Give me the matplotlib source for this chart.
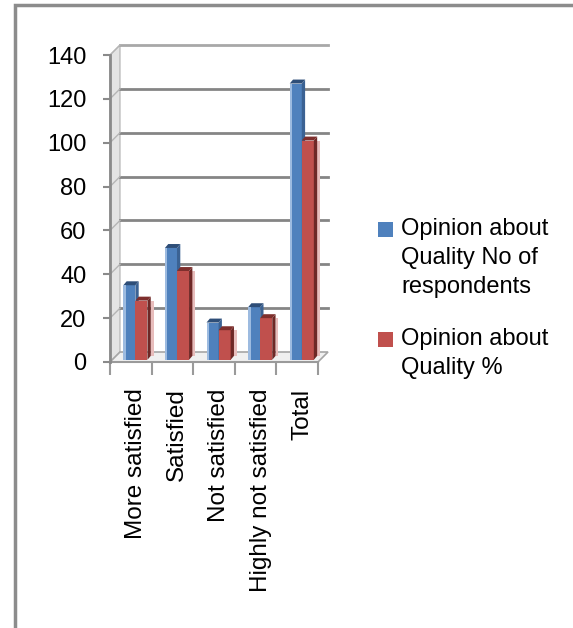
import numpy as np
import matplotlib.pyplot as plt
from matplotlib.patches import Polygon, Rectangle

plt.rcParams['font.family'] = ['Liberation Sans', 'DejaVu Sans']

categories = ['More satisfied', 'Satisfied', 'Not satisfied', 'Highly not satisfied', 'Total']
respondents = [34, 51, 17, 24, 126]
percent = [27, 40.5, 13.5, 19, 100]
series_names = ['Opinion about\nQuality No of\nrespondents', 'Opinion about\nQuality %']
y_ticks = [0, 20, 40, 60, 80, 100, 120, 140]

W, H = 573, 628
fig = plt.figure(figsize=(W / 100, H / 100), dpi=100)

# outer chart frame (runs off right/bottom edge)
fig.patches.append(Rectangle((15 / W, -0.1), 1.2, 1 - 5 / H + 0.1, transform=fig.transFigure,
                             fill=False, edgecolor='#8c8c8c', lw=2.5))

ax = fig.add_axes([110 / W, (H - 362) / H, (318 - 110) / W, (362 - 55) / H])
x0, x1 = -0.5, 4.5
ax.set_xlim(x0, x1)
ax.set_ylim(0, 140)
for s in ['top', 'right', 'bottom']:
    ax.spines[s].set_visible(False)
ax.spines['left'].set_color('#8a8a8a')
ax.spines['left'].set_linewidth(2)

# depth of the "3d" walls, in data units (about 10px)
dxw = 10 * (x1 - x0) / 208
dyw = 10 * 140 / 307

# left side wall
ax.add_patch(Polygon([(x0, 0), (x0 + dxw, dyw), (x0 + dxw, 140 + dyw), (x0, 140)],
                     closed=True, facecolor='#e4e4e4', edgecolor='#b0b0b0', lw=0.8,
                     clip_on=False, zorder=0))
# floor
ax.add_patch(Polygon([(x0, 0), (x1, 0), (x1 + dxw, dyw), (x0 + dxw, dyw)],
                     closed=True, facecolor='#f0f0f0', edgecolor='#a6a6a6', lw=1.2,
                     clip_on=False, zorder=0.5))
# back wall gridlines
for t in y_ticks[1:]:
    c = '#a8a8a8' if t == 140 else '#858585'
    ax.plot([x0 + dxw, x1 + dxw], [t + dyw, t + dyw], color=c, lw=2, clip_on=False, zorder=0.6)
    ax.plot([x0, x0 + dxw], [t, t + dyw], color='#b5b5b5', lw=1, clip_on=False, zorder=0.6)
ax.plot([x0, x1], [0, 0], color='#9a9a9a', lw=1.5, clip_on=False, zorder=0.7)

# bars with fake depth
xs = np.arange(len(categories))
bw = 0.29
dxb, dyb = 0.08, 1.8
base = 1.0
styles = [
    (respondents, -0.18, '#4F81BD', '#2E4E78', '#3B6293', '#9DBBE0'),
    (percent, 0.11, '#C0504D', '#7E2F2D', '#6E2826', '#E8BDBC'),
]
for k, (vals, off, front, top, side, glow) in enumerate(styles):
    z = 2 + k
    left = xs + off
    ax.bar(left, vals, width=bw, bottom=base, align='edge', color=front, zorder=z, clip_on=False)
    for l, v in zip(left, vals):
        h = base + v
        ax.add_patch(Polygon([(l + bw, base), (l + bw + dxb, base + dyb), (l + bw + dxb, h + dyb), (l + bw, h)],
                             closed=True, facecolor=side, lw=0, zorder=z, clip_on=False))
        ax.add_patch(Polygon([(l, h), (l + bw, h), (l + bw + dxb, h + dyb), (l + dxb, h + dyb)],
                             closed=True, facecolor=top, lw=0, zorder=z, clip_on=False))
        if k == 0:
            ax.add_patch(Rectangle((l, base), 0.06, v, facecolor=glow, lw=0, zorder=z, clip_on=False))
        else:
            ax.add_patch(Rectangle((l + bw + dxb, base + dyb), 0.07, v - dyb, facecolor=glow, lw=0,
                                   zorder=z - 0.1, clip_on=False))

# ticks
ax.set_yticks(y_ticks)
ax.tick_params(axis='y', length=5, width=1.5, color='#8a8a8a', pad=12, labelsize=17)
ax.set_xticks(xs + 0.12)
ax.set_xticklabels(categories, rotation=90, fontsize=17.5)
ax.tick_params(axis='x', which='major', length=0, pad=19)
ax.set_xticks(np.arange(x0, x1 + 0.5, 1), minor=True)
ax.tick_params(axis='x', which='minor', length=9, width=1.5, color='#9a9a9a')

# legend drawn by hand: square next to first text line
colors = ['#4F81BD', '#C0504D']
tops = [222, 332]
for name, c, t in zip(series_names, colors, tops):
    fig.patches.append(Rectangle((378 / W, 1 - (t + 15) / H), 15 / W, 15 / H,
                                 transform=fig.transFigure, facecolor=c, edgecolor='none'))
    fig.text(401 / W, 1 - (t - 4) / H, name, ha='left', va='top', fontsize=17, linespacing=1.42)

fig.savefig('out.png', dpi=100)
